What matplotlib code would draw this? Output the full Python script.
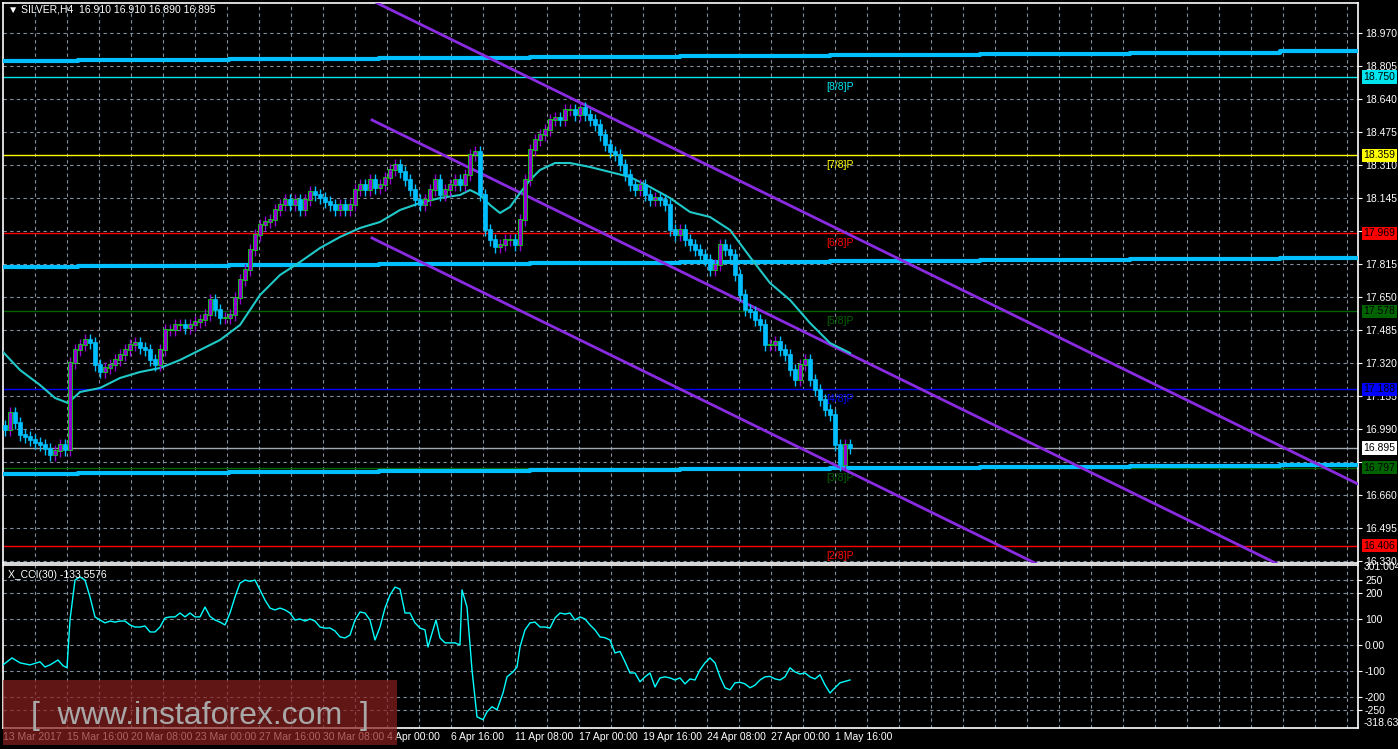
import matplotlib.pyplot as plt
import matplotlib.transforms as mtransforms
from matplotlib.patches import Rectangle
import numpy as np

plt.rcParams["font.family"] = ["Liberation Sans", "DejaVu Sans"]

# closing prices of SILVER H4 bars, one bar every 5 px of chart width
closes = [16.985, 17.07, 17.02, 16.96, 16.95, 16.935, 16.92, 16.91, 16.89, 16.86,
          16.88, 16.91, 16.885, 17.32, 17.385, 17.41, 17.435, 17.42, 17.31, 17.275,
          17.295, 17.31, 17.335, 17.36, 17.385, 17.41, 17.42, 17.395, 17.385, 17.335,
          17.31, 17.385, 17.485, 17.485, 17.51, 17.51, 17.495, 17.51, 17.525, 17.535,
          17.56, 17.635, 17.585, 17.545, 17.545, 17.56, 17.645, 17.735, 17.785, 17.885,
          17.96, 18.01, 18.025, 18.035, 18.085, 18.11, 18.135, 18.11, 18.135, 18.085,
          18.135, 18.175, 18.16, 18.145, 18.125, 18.11, 18.085, 18.11, 18.085, 18.11,
          18.185, 18.21, 18.185, 18.235, 18.195, 18.21, 18.245, 18.285, 18.31, 18.275,
          18.235, 18.185, 18.135, 18.11, 18.135, 18.185, 18.235, 18.16, 18.185, 18.21,
          18.235, 18.21, 18.26, 18.36, 18.375, 18.16, 17.985, 17.935, 17.90, 17.91,
          17.935, 17.935, 17.91, 18.035, 18.235, 18.385, 18.435, 18.46, 18.485, 18.535,
          18.545, 18.535, 18.585, 18.585, 18.56, 18.595, 18.56, 18.535, 18.51, 18.46,
          18.41, 18.375, 18.36, 18.31, 18.26, 18.21, 18.185, 18.21, 18.16, 18.135,
          18.145, 18.135, 18.11, 17.985, 17.96, 17.985, 17.935, 17.91, 17.885, 17.86,
          17.835, 17.785, 17.81, 17.91, 17.885, 17.86, 17.76, 17.66, 17.585, 17.575,
          17.535, 17.51, 17.41, 17.41, 17.425, 17.385, 17.36, 17.285, 17.235, 17.31,
          17.335, 17.235, 17.185, 17.135, 17.085, 17.06, 16.91, 16.81, 16.91, 16.895]

ma_x = [3, 20, 40, 55, 68, 80, 100, 120, 140, 160, 180, 200, 220, 240, 260, 280, 300,
        320, 340, 360, 380, 400, 420, 440, 460, 470, 480, 490, 500, 510, 520, 530, 540,
        555, 570, 590, 610, 630, 650, 670, 690, 710, 730, 750, 770, 790, 810, 830, 850]
ma_val = [17.375, 17.285, 17.21, 17.145, 17.12, 17.175, 17.195, 17.245, 17.275, 17.295,
          17.335, 17.385, 17.435, 17.51, 17.66, 17.76, 17.825, 17.895, 17.95, 17.995,
          18.025, 18.085, 18.12, 18.145, 18.16, 18.185, 18.16, 18.11, 18.07, 18.10,
          18.17, 18.235, 18.285, 18.32, 18.32, 18.30, 18.275, 18.25, 18.20, 18.145,
          18.075, 18.05, 17.985, 17.85, 17.72, 17.635, 17.52, 17.42, 17.37]

cci_x = [3, 12, 20, 30, 40, 45, 50, 58, 63, 67, 70, 75, 80, 85, 90, 95, 100, 105, 110,
         115, 120, 125, 130, 135, 140, 145, 150, 155, 160, 165, 170, 175, 180, 185, 190,
         195, 200, 205, 210, 215, 220, 225, 230, 235, 240, 245, 250, 255, 260, 265, 270,
         275, 280, 285, 290, 295, 300, 305, 310, 315, 320, 325, 330, 335, 340, 345, 350,
         355, 360, 365, 370, 375, 380, 385, 390, 395, 400, 405, 410, 415, 420, 425, 428,
         433, 436, 440, 445, 450, 455, 460, 462, 467, 472, 477, 483, 487, 492, 497, 503,
         507, 513, 517, 520, 525, 530, 535, 540, 545, 550, 555, 560, 565, 570, 575, 580,
         585, 590, 595, 600, 605, 610, 615, 620, 625, 630, 635, 640, 645, 650, 655, 660,
         665, 670, 675, 680, 685, 690, 695, 700, 705, 710, 715, 720, 725, 730, 735, 740,
         745, 750, 755, 760, 765, 770, 775, 780, 785, 790, 795, 800, 805, 810, 815, 820,
         825, 830, 835, 840, 850]
cci_val = [-77, -50, -69, -77, -65, -85, -77, -58, -80, -88, 96, 250, 262, 250, 185, 108,
           96, 85, 92, 88, 92, 92, 77, 69, 69, 73, 50, 50, 69, 104, 108, 108, 123, 108,
           123, 108, 108, 146, 110, 96, 88, 77, 123, 185, 238, 250, 245, 250, 212, 173,
           142, 135, 142, 135, 123, 96, 100, 92, 100, 92, 69, 65, 65, 54, 31, 27, 38, 96,
           127, 123, 96, 19, 69, 142, 192, 223, 215, 123, 123, 85, 65, 58, -8, 58, 96, 27,
           8, 8, 8, 0, 212, 146, -96, -277, -288, -258, -238, -250, -185, -123, -104, -85,
           -8, 58, 85, 88, 69, 69, 65, 104, 123, 119, 123, 96, 108, 100, 77, 58, 31, 28,
           19, -31, -25, -65, -108, -108, -142, -123, -108, -162, -127, -123, -127, -135,
           -127, -150, -131, -135, -96, -69, -50, -69, -123, -165, -173, -146, -144, -150,
           -165, -155, -135, -123, -121, -131, -135, -123, -88, -104, -112, -108, -123,
           -131, -115, -154, -185, -165, -146, -135]

# Murrey math levels
mm_levels = [18.750, 18.359, 17.969, 17.578, 17.188, 16.797, 16.406]
mm_names = ["[8/8]P", "[7/8]P", "[6/8]P", "[5/8]P", "[4/8]P", "[3/8]P", "[2/8]P"]
mm_colors = ["#00e5ee", "#ffff00", "#ff0000", "#006400", "#0000ff", "#006400", "#ff0000"]

# stepped thick support/resistance lines
step_x = [3, 78, 229, 379, 530, 680, 830, 980, 1130, 1280, 1358]
step_top = [18.832, 18.836, 18.842, 18.847, 18.852, 18.857, 18.862, 18.867, 18.872, 18.878]
step_mid = [17.800, 17.805, 17.810, 17.815, 17.820, 17.825, 17.830, 17.835, 17.840, 17.845]
step_low = [16.765, 16.770, 16.775, 16.780, 16.785, 16.790, 16.795, 16.800, 16.805, 16.810]

# regression channel lines: (x0, price0, x1, price1)
channels = [(377, 19.12, 1358, 16.715),
            (372, 18.535, 1358, 16.118),
            (372, 17.945, 1358, 15.528)]

last_price = 16.895
price_ticks = [16.330, 16.495, 16.660, 16.825, 16.990, 17.155, 17.320, 17.485,
               17.650, 17.815, 17.980, 18.145, 18.310, 18.475, 18.640, 18.805, 18.970]
price_tick_labels = ["16.330", "16.495", "16.660", "", "16.990", "17.155", "17.320",
                     "17.485", "17.650", "17.815", "", "18.145", "18.310", "18.475",
                     "18.640", "18.805", "18.970"]
cci_ticks = [250, 200, 100, 0, -100, -200, -250]
cci_tick_labels = ["250", "200", "100", "0.00", "-100", "-200", "-250"]
time_labels = ["13 Mar 2017", "15 Mar 16:00", "20 Mar 08:00", "23 Mar 00:00",
               "27 Mar 16:00", "30 Mar 08:00", "4 Apr 00:00", "6 Apr 16:00",
               "11 Apr 08:00", "17 Apr 00:00", "19 Apr 16:00", "24 Apr 08:00",
               "27 Apr 00:00", "1 May 16:00"]

FS = 7.5
W, H = 1398, 749
fig = plt.figure(figsize=(W / 100, H / 100), dpi=100, facecolor="black")
ax = fig.add_axes([3 / W, 1 - 563 / H, 1355 / W, 560 / H], facecolor="black")
axc = fig.add_axes([3 / W, 1 - 728 / H, 1355 / W, 163 / H], facecolor="black")

grid_kw = dict(color="#8090a0", lw=0.8, ls=(0, (3, 3)))
xmaj = [3 + 64 * k for k in range(len(time_labels))]
xgrid = [3 + 32 * k for k in range(43)]

for a in (ax, axc):
    a.set_xlim(3, 1358)
    for s in a.spines.values():
        s.set_color("white")
        s.set_linewidth(1.2)
    for xg in xgrid[1:]:
        a.axvline(xg, zorder=0, **grid_kw)
    a.yaxis.tick_right()
    a.tick_params(axis="y", colors="white", labelsize=FS, length=3, pad=2)
    a.tick_params(axis="x", colors="white", labelsize=FS, length=0)

# ---- price panel
ax.set_ylim(16.32, 19.12)
ax.set_yticks(price_ticks)
ax.set_yticklabels(price_tick_labels)
ax.set_xticks([])
for p in price_ticks:
    ax.axhline(p, zorder=0, **grid_kw)

trans = mtransforms.blended_transform_factory(ax.transAxes, ax.transData)
for lvl, name, col in zip(mm_levels, mm_names, mm_colors):
    ax.axhline(lvl, color=col, lw=1, zorder=1)
    ax.text(826, lvl - 0.025, name, color=col, fontsize=FS, va="top", ha="left", zorder=2)
    ax.text(1.004, lvl, f"{lvl:.3f}", transform=trans, color="black", fontsize=FS,
            va="center", ha="left", clip_on=False,
            bbox=dict(boxstyle="square,pad=0.15", fc=col, ec="none"))
ax.text(826, 19.17, "[+1/8]P", color="#9370db", fontsize=FS, va="top", clip_on=True)
ax.axhline(last_price, color="#a0a8b0", lw=1, zorder=1)
ax.text(1.004, last_price, f"{last_price:.3f}", transform=trans, color="black",
        fontsize=FS, va="center", ha="left", clip_on=False,
        bbox=dict(boxstyle="square,pad=0.15", fc="white", ec="none"))

for lv in (step_top, step_mid, step_low):
    ax.step(step_x, lv + [lv[-1]], where="post", color="#00bfff", lw=3, zorder=3)

for x0, p0, x1, p1 in channels:
    ax.plot([x0, x1], [p0, p1], color="#8a2be2", lw=2, zorder=4)

ax.plot(ma_x, ma_val, color="#20c8c8", lw=1.5, zorder=5)

c = np.array(closes)
o = np.concatenate([[c[0] + 0.02], c[:-1]])
xs = 5 + 5 * np.arange(len(c))
up = c >= o
hi = np.maximum(o, c) + 0.03
lo = np.minimum(o, c) - 0.03
cols = np.where(up, "#9400d3", "#00bfff")
ax.vlines(xs, lo, hi, colors=cols, lw=1, zorder=6)
ax.bar(xs, np.abs(c - o) + 0.004, bottom=np.minimum(o, c), width=3.2, color=cols,
       edgecolor=np.where(up, "#00ff00", "#00bfff"), lw=0.5, zorder=7)

ax.text(8, 19.09, "\u25bc SILVER,H4  16.910 16.910 16.890 16.895", color="white",
        fontsize=FS, va="center", ha="left")

# ---- CCI panel
axc.set_ylim(-320, 308)
axc.set_yticks(cci_ticks)
axc.set_yticklabels(cci_tick_labels)
for v in cci_ticks:
    axc.axhline(v, zorder=0, **grid_kw)
ctrans = mtransforms.blended_transform_factory(axc.transAxes, axc.transData)
axc.text(1.004, 301, "301.0049", transform=ctrans, color="white", fontsize=FS,
         va="center", clip_on=False)
axc.text(1.004, -300, "-318.633", transform=ctrans, color="white", fontsize=FS,
         va="center", clip_on=False)
axc.plot(cci_x, cci_val, color="#00ffff", lw=1, zorder=3)
axc.text(8, 270, "X_CCI(30) -133.5576", color="white", fontsize=FS, va="center")
axc.set_xticks(xmaj)
axc.set_xticklabels(time_labels, ha="left")
axc.tick_params(axis="x", pad=3)

# watermark
fig.patches.append(Rectangle((3 / W, 1 - 745 / H), 394 / W, 65 / H, transform=fig.transFigure,
                             fc="#8b2020", ec="none", alpha=0.7, zorder=10))
fig.text(200 / W, 1 - 716 / H, "[  www.instaforex.com  ]", color="#a8a8a8", fontsize=23,
         ha="center", va="center", zorder=11)

fig.savefig("out.png", dpi=100, facecolor="black")
